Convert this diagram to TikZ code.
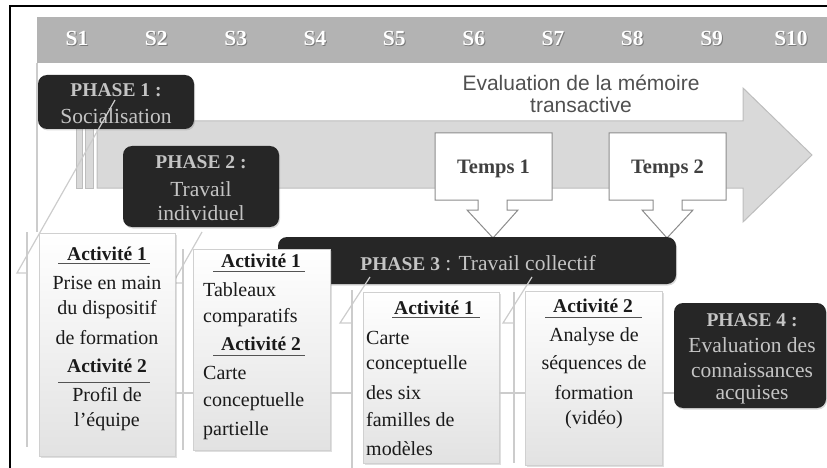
\documentclass[tikz,border=0pt]{standalone}
\usepackage{fontspec}
\setmainfont{Liberation Serif}
\newfontfamily\evalfont{Liberation Sans}
\usetikzlibrary{shadows}
\definecolor{headgray}{HTML}{B3B3B3}
\definecolor{hdrshadow}{HTML}{7A7A7A}
\definecolor{arrowfill}{HTML}{D9D9D9}
\definecolor{arrowedge}{HTML}{BDBDBD}
\definecolor{phasefill}{HTML}{262626}
\definecolor{phasetext}{HTML}{C4C4C4}
\definecolor{linegray}{HTML}{CCCCCC}
\definecolor{actedge}{HTML}{D0D0D0}
\definecolor{actbottom}{HTML}{E2E2E2}
\definecolor{acttext}{HTML}{1A1A1A}
\definecolor{evaltext}{HTML}{505050}
\definecolor{tempsedge}{HTML}{8C8C8C}
\definecolor{tempstext}{HTML}{404040}
\newcommand\myfs[1]{\fontsize{#1pt}{#1pt}\selectfont}
\begin{document}
\begin{tikzpicture}[x=1pt,y=-1pt,
  hdrlabel/.style={inner sep=0pt, text=white, font=\myfs{21.5}\bfseries},
  hdrshade/.style={inner sep=0pt, text=hdrshadow, font=\myfs{21.5}\bfseries},
  phasebox/.style={fill=phasefill, rounded corners=9pt, draw=none, inner sep=0pt,
    drop shadow={opacity=0.3,shadow xshift=1pt,shadow yshift=-1.5pt}},
  ptxt/.style={inner sep=0pt, text=phasetext, font=\myfs{21.5}},
  pbold/.style={inner sep=0pt, text=phasetext, font=\myfs{19.5}\bfseries},
  actbox/.style={draw=actedge, line width=0.8pt, top color=white, bottom color=actbottom, inner sep=0pt,
    drop shadow={opacity=0.25,shadow xshift=1.5pt,shadow yshift=-1.5pt}},
  atxt/.style={inner sep=0pt, text=acttext, font=\myfs{20}},
  ahead/.style={inner sep=0pt, text=acttext, font=\myfs{19.5}\bfseries},
  uline/.style={draw=acttext!75, line width=0.9pt},
  gline/.style={draw=linegray, line width=1.5pt},
  arrowshape/.style={fill=arrowfill, draw=arrowedge, line width=1pt},
  tempsshape/.style={fill=white, draw=tempsedge, line width=1pt},
  tempstxt/.style={inner sep=0pt, text=tempstext, font=\myfs{20.5}\bfseries},
  framel/.style={draw=black, line width=1.5pt}
]
\useasboundingbox (0,0) rectangle (827,468);

% frame
\draw[framel] (10,468) -- (10,6) -- (827,6);

% header bar
\fill[headgray] (37,17) rectangle (827,63);
\foreach \i in {1,...,10}{
  \node[hdrshade] (hs\i) at ({77+(\i-1)*79.33+1},39) {S\i};
  \node[hdrlabel] (h\i) at ({77+(\i-1)*79.33},38) {S\i};
}

% light vertical guide lines
\draw[gline] (37,63) -- (37,232);
\draw[gline] (27,232) -- (27,447);
\draw[gline] (183,249) -- (183,450);
\draw[gline] (352,290) -- (352,468);
\draw[gline] (514,292) -- (514,463);

% big striped arrow
\draw[arrowshape] (76,121) rectangle (82,188);
\draw[arrowshape] (85,121) rectangle (93,188);
\draw[arrowshape] (97,121) -- (743,121) -- (743,88) -- (812,155) -- (743,222) -- (743,188) -- (97,188) -- cycle;

\node[inner sep=0pt, text=evaltext, font=\evalfont\myfs{21}, align=center] (evaltxt) at (581,94)
  {Evaluation de la mémoire\\[1pt]transactive};

% Temps callouts
\draw[tempsshape] (435,133) -- (552,133) -- (552,200) -- (507,200) -- (507,210) -- (518,210)
  -- (493,238) -- (467,210) -- (478,210) -- (478,200) -- (435,200) -- cycle;
\draw[tempsshape] (609,133) -- (726,133) -- (726,200) -- (682,200) -- (682,210) -- (693,210)
  -- (667,238) -- (642,210) -- (653,210) -- (653,200) -- (609,200) -- cycle;
\node[tempstxt] (t1) at (493.5,169) {Temps 1};
\node[tempstxt] (t2) at (667.5,169) {Temps 2};

% phase boxes
\node[phasebox, minimum width=156pt, minimum height=54pt] (p1) at (116,102) {};
\node[pbold] (p1a) at (116,90) {PHASE 1 :};
\node[ptxt] (p1b) at (116,116) {Socialisation};

\node[phasebox, minimum width=156pt, minimum height=81pt] (p2) at (201,186.5) {};
\node[pbold] (p2a) at (201,162) {PHASE 2 :};
\node[ptxt] (p2b) at (201,189) {Travail};
\node[ptxt] (p2c) at (201,213) {individuel};

\node[phasebox, minimum width=398pt, minimum height=47pt] (p3) at (477,260.5) {};
\node[ptxt] (p3a) at (478,263) {{\myfs{19.5}\bfseries PHASE 3} : Travail collectif};

\node[phasebox, minimum width=152pt, minimum height=105pt] (p4) at (750,355.5) {};
\node[pbold] (p4a) at (752,320) {PHASE 4 :};
\node[ptxt] (p4b) at (752,345) {Evaluation des};
\node[ptxt] (p4c) at (752,370) {connaissances};
\node[ptxt] (p4d) at (752,395) {acquises};

% diagonal callout lines
\coordinate (d1a) at (115,100); \coordinate (d1b) at (17,273); \coordinate (d1c) at (27,273);
\coordinate (d2a) at (202,232); \coordinate (d2b) at (173,283); \coordinate (d2c) at (183,283);
\coordinate (d3a) at (370,277); \coordinate (d3b) at (340,323); \coordinate (d3c) at (352,323);
\coordinate (d4a) at (532,277); \coordinate (d4b) at (503,323); \coordinate (d4c) at (514,323);
\draw[gline, line width=1.2pt] (d1a) -- (d1b) -- (d1c);
\draw[gline, line width=1.2pt] (d2a) -- (d2b) -- (d2c);
\draw[gline, line width=1.2pt] (d3a) -- (d3b) -- (d3c);
\draw[gline, line width=1.2pt] (d4a) -- (d4b) -- (d4c);

% activity boxes
\node[actbox, minimum width=136pt, minimum height=223pt] (bA) at (107,344.5) {};
\node[actbox, minimum width=137pt, minimum height=201pt] (bB) at (261.5,349.5) {};
\node[actbox, minimum width=136pt, minimum height=171pt] (bC) at (431,377.5) {};
\node[actbox, minimum width=137pt, minimum height=174pt] (bD) at (593.5,378) {};

% horizontal links between boxes
\draw[gline] (bA.east |- 0,393) -- (bB.west |- 0,393);
\draw[gline] (bB.east |- 0,393) -- (352,393);
\draw[gline] (bC.east |- 0,393) -- (bD.west |- 0,393);
\draw[gline] (bD.east |- 0,393) -- (p4.west |- 0,393);

% box A text
\node[ahead] (a1) at (107,254) {Activité 1};
\draw[uline] (58,263) -- (150,263);
\node[atxt] (a2) at (107,283) {Prise en main};
\node[atxt] (a3) at (107,310) {du dispositif};
\node[atxt] (a4) at (107,338) {de formation};
\node[ahead] (a5) at (107,366) {Activité 2};
\draw[uline] (58,382) -- (150,382);
\node[atxt] (a6) at (107,395) {Profil de};
\node[atxt] (a7) at (107,422) {l’équipe};

% box B text
\node[ahead] (b1) at (261,261) {Activité 1};
\draw[uline] (213,271) -- (305,271);
\node[atxt, anchor=west] (b2) at (203,290) {Tableaux};
\node[atxt, anchor=west] (b3) at (203,318) {comparatifs};
\node[ahead] (b4) at (261,344) {Activité 2};
\draw[uline] (213,355) -- (305,355);
\node[atxt, anchor=west] (b5) at (203,373) {Carte};
\node[atxt, anchor=west] (b6) at (203,402) {conceptuelle};
\node[atxt, anchor=west] (b7) at (203,431) {partielle};

% box C text
\node[ahead] (c1) at (434,308) {Activité 1};
\draw[uline] (392,317) -- (480,317);
\node[atxt, anchor=west] (c2) at (366,338) {Carte};
\node[atxt, anchor=west] (c3) at (366,365) {conceptuelle};
\node[atxt, anchor=west] (c4) at (366,393) {des six};
\node[atxt, anchor=west] (c5) at (366,420) {familles de};
\node[atxt, anchor=west] (c6) at (366,449) {modèles};

% box D text
\node[ahead] (e1) at (593,306) {Activité 2};
\draw[uline] (545,317) -- (642,317);
\node[atxt] (e2) at (594,337) {Analyse de};
\node[atxt] (e3) at (594,365) {séquences de};
\node[atxt] (e4) at (594,393) {formation};
\node[atxt] (e5) at (594,420) {(vidéo)};
\end{tikzpicture}
\end{document}
